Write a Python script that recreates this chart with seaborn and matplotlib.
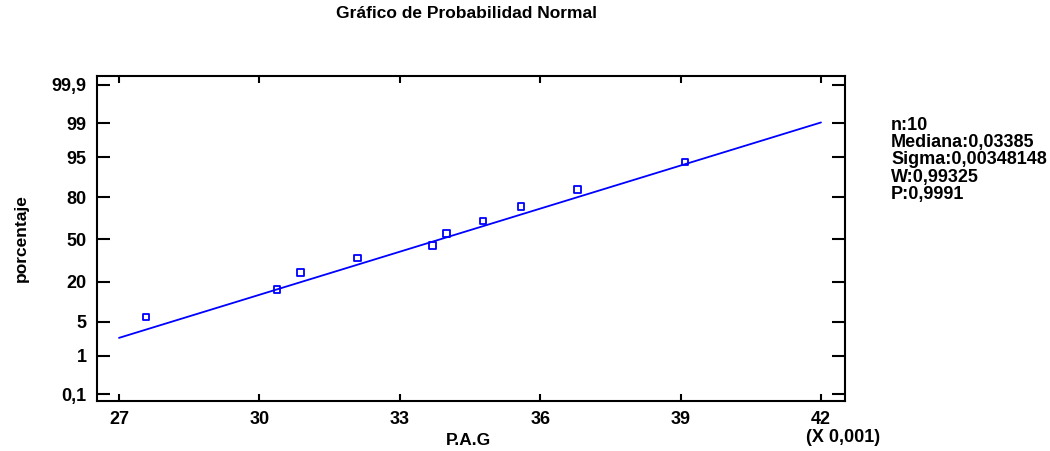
import numpy as np
import matplotlib
matplotlib.use("Agg")
import matplotlib.pyplot as plt
import seaborn as sns
from matplotlib.ticker import FixedLocator, FuncFormatter
from statistics import NormalDist

# P.A.G observations (real units) and their plotted cumulative percentages
pag = [0.02758, 0.03038, 0.03088, 0.03210, 0.03370,
       0.03400, 0.03478, 0.03559, 0.03680, 0.03909]
percent = [6.1, 15.9, 25.6, 35.4, 45.1, 54.9, 64.6, 74.4, 84.1, 93.9]

# summary shown beside the plot
n_obs = 10
mediana = 0.03385
sigma = 0.00348148
w_stat = 0.99325
p_val = 0.9991

# axis ticks
y_ticks = [0.1, 1, 5, 20, 50, 80, 95, 99, 99.9]
y_tick_labels = ["0,1", "1", "5", "20", "50", "80", "95", "99", "99,9"]
x_ticks = [0.027, 0.030, 0.033, 0.036, 0.039, 0.042]

blue = "#0000ff"
nd = NormalDist()


def prob_forward(p):
    p = np.clip(np.asarray(p, dtype=float) / 100.0, 1e-9, 1 - 1e-9)
    return np.vectorize(nd.inv_cdf, otypes=[float])(p)


def prob_inverse(z):
    z = np.asarray(z, dtype=float)
    return np.vectorize(nd.cdf, otypes=[float])(z) * 100.0


sns.set_style("white")
plt.rcParams["font.family"] = ["Liberation Sans", "DejaVu Sans"]
plt.rcParams["font.weight"] = "bold"
plt.rcParams["text.color"] = "black"
plt.rcParams["axes.labelcolor"] = "black"
plt.rcParams["xtick.color"] = "black"
plt.rcParams["ytick.color"] = "black"
fs = 12.5
fs_tick = 13

W, H = 1050, 451
fig = plt.figure(figsize=(W / 100, H / 100), dpi=100)
ax = fig.add_axes([97 / W, 1 - 401 / H, (845 - 97) / W, (401 - 76) / H])
ax.set_yscale("function", functions=(prob_forward, prob_inverse))

# fitted normal line from the stated median and sigma
x_line = np.array([0.027, 0.042])
y_line = prob_inverse((x_line - mediana) / sigma)
sns.lineplot(x=x_line, y=y_line, ax=ax, color=blue, linewidth=1.3,
             sort=False, estimator=None)

# observed points as open squares
sns.scatterplot(x=pag, y=percent, ax=ax, marker="s", s=22,
                facecolor="none", edgecolor=blue, linewidth=1.3, zorder=3)

ax.set_xlim(0.026530, 0.042513)
ax.set_ylim(prob_inverse(-3.23), prob_inverse(3.27))

ax.yaxis.set_major_locator(FixedLocator(y_ticks))
ax.yaxis.set_minor_locator(FixedLocator([]))
ax.set_yticklabels(y_tick_labels)
ax.xaxis.set_major_locator(FixedLocator(x_ticks))
ax.xaxis.set_major_formatter(FuncFormatter(lambda v, _: f"{v * 1000:.0f}"))

for s in ax.spines.values():
    s.set_visible(True)
    s.set_color("black")
    s.set_linewidth(1.5)

ax.tick_params(axis="y", which="major", direction="in", length=9.5, width=1.5,
               left=True, right=True, labelsize=fs_tick, pad=7.5,
               colors="black")
ax.tick_params(axis="x", which="major", direction="in", length=5, width=1.5,
               bottom=True, top=True, labelsize=fs_tick, pad=7,
               colors="black")
for lab in ax.get_xticklabels() + ax.get_yticklabels():
    lab.set_fontweight("bold")
    lab.set_color("black")

ax.set_xlabel("P.A.G", fontsize=fs, fontweight="bold", color="black")
ax.xaxis.set_label_coords(0.497, -0.123)
ax.xaxis.label.set_verticalalignment("center")
ax.set_ylabel("porcentaje", fontsize=fs, fontweight="bold", color="black")
ax.yaxis.set_label_coords(-(97 - 21) / (845 - 97), 0.5)
ax.yaxis.label.set_verticalalignment("center")

fig.text(806 / W, 1 - 437 / H, "(X 0,001)", fontsize=fs_tick,
         fontweight="bold", ha="left", va="center", color="black")

fig.text(467 / W, 1 - 14 / H, "Gráfico de Probabilidad Normal", fontsize=fs,
         fontweight="bold", ha="center", va="center", color="black")

info = [f"n:{n_obs}",
        f"Mediana:{mediana:.5f}".replace(".", ","),
        f"Sigma:{sigma:.8f}".replace(".", ","),
        f"W:{w_stat:.5f}".replace(".", ","),
        f"P:{p_val:.4f}".replace(".", ",")]
for i, line in enumerate(info):
    fig.text(891 / W, 1 - (125 + 17.5 * i) / H, line, fontsize=13,
             fontweight="bold", ha="left", va="center", color="black")

fig.savefig("out.png", dpi=100, facecolor="white")
